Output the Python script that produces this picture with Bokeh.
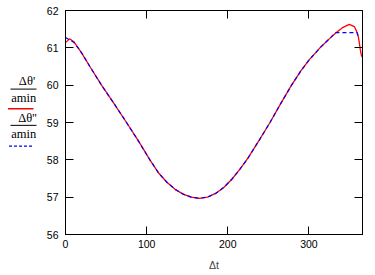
from bokeh.plotting import figure
from bokeh.layouts import row
from bokeh.models import Range1d, FixedTicker, LinearAxis
from bokeh.core.properties import value
from bokeh.embed import file_html
from bokeh.resources import INLINE

# Data
red_x = [0, 5, 10, 15.6, 20, 30, 44.4, 60, 75.2, 90, 104, 115, 125, 135, 145, 155, 165,
         175, 185, 195, 205, 215, 225, 238, 252, 265, 278.6, 290, 300, 313.6, 325, 333,
         342, 349.7, 355.9, 358.8, 360.8, 362.1, 363.3, 364.5, 365.8]
red_y = [61.14, 61.24, 61.17, 61.0, 60.86, 60.5, 60.0, 59.5, 59.0, 58.5, 58.0, 57.64,
         57.4, 57.21, 57.08, 57.0, 56.97, 57.0, 57.1, 57.26, 57.48, 57.75, 58.05, 58.5,
         59.0, 59.5, 60.0, 60.38, 60.67, 61.0, 61.24, 61.4, 61.55, 61.63, 61.57, 61.44,
         61.3, 61.13, 60.95, 60.81, 60.75]
blue_x = [0, 5, 10, 15.6, 20, 30, 44.4, 60, 75.2, 90, 104, 115, 125, 135, 145, 155, 165,
          175, 185, 195, 205, 215, 225, 238, 252, 265, 278.6, 290, 300, 313.6, 325, 333,
          359.5, 360.8]
blue_y = [61.28, 61.21, 61.15, 61.0, 60.86, 60.5, 60.0, 59.5, 59.0, 58.5, 58.0, 57.64,
          57.4, 57.21, 57.08, 57.0, 56.97, 57.0, 57.1, 57.26, 57.48, 57.75, 58.05, 58.5,
          59.0, 59.5, 60.0, 60.38, 60.67, 61.0, 61.24, 61.41, 61.41, 61.3]
x_ticks = [0, 100, 200, 300]
y_ticks = [56, 57, 58, 59, 60, 61, 62]
x_label = "Δt"
legend_num = ["Δθ'", "Δθ''"]
legend_den = ["amin", "amin"]

TICK_FONT = "Liberation Sans"
TICK_SIZE = "10.5px"

p = figure(width=335, height=275, x_range=Range1d(0, 366), y_range=Range1d(56, 62),
           toolbar_location=None, output_backend="svg",
           min_border_left=25, min_border_right=13, min_border_top=10, min_border_bottom=41)
p.xgrid.visible = False
p.ygrid.visible = False
p.outline_line_color = "black"
p.background_fill_color = "white"
p.border_fill_color = "white"

p.line(red_x, red_y, line_color="#FF0000", line_width=1.3)
p.line(blue_x, blue_y, line_color="#0000FF", line_width=1.2, line_dash="4 3")

for ax in p.xaxis:
    ax.ticker = FixedTicker(ticks=x_ticks)
for ax in p.yaxis:
    ax.ticker = FixedTicker(ticks=y_ticks)

for ax in list(p.xaxis) + list(p.yaxis):
    ax.major_tick_in = 8
    ax.major_tick_out = 0
    ax.minor_tick_line_color = None
    ax.axis_line_color = "black"
    ax.major_tick_line_color = "black"
    ax.major_label_text_font = TICK_FONT
    ax.major_label_text_font_size = TICK_SIZE
    ax.major_label_text_color = "black"

p.xaxis.major_label_standoff = 5
p.yaxis.major_label_standoff = 7
p.xaxis.axis_label = x_label
p.xaxis.axis_label_text_font = TICK_FONT
p.xaxis.axis_label_text_font_size = TICK_SIZE
p.xaxis.axis_label_text_font_style = "normal"
p.xaxis.axis_label_standoff = 8

top = LinearAxis(ticker=FixedTicker(ticks=x_ticks), major_tick_in=8, major_tick_out=0,
                 minor_tick_line_color=None, major_label_text_font_size="1px",
                 major_label_text_color=None, major_label_standoff=0, axis_line_color="black")
right = LinearAxis(ticker=FixedTicker(ticks=y_ticks), major_tick_in=8, major_tick_out=0,
                   minor_tick_line_color=None, major_label_text_font_size="1px",
                   major_label_text_color=None, major_label_standoff=0, axis_line_color="black")
p.add_layout(top, "above")
p.add_layout(right, "right")

# Legend panel (Mathcad-style), drawn in pixel coordinates of its own small figure
lg = figure(width=40, height=275, x_range=Range1d(0, 40), y_range=Range1d(275, 0),
            toolbar_location=None, output_backend="svg", x_axis_type=None, y_axis_type=None,
            min_border=0, min_border_left=0, min_border_right=0, min_border_top=0,
            min_border_bottom=0)
lg.outline_line_color = None
lg.xgrid.visible = False
lg.ygrid.visible = False

SERIF = value("'Liberation Serif', serif")
lg.text(x=[26.5, 27], y=[87, 132.5], text=legend_num, text_font=SERIF,
        text_font_size="12.5px", text_align="center", text_baseline="middle", text_color="black")
lg.text(x=[23.3, 23.3], y=[107.5, 152], text=legend_den, text_font=SERIF,
        text_font_size="12.5px", text_align="center", text_baseline="middle", text_color="black")
lg.segment(x0=[10, 10], y0=[96.5, 141], x1=[36, 36], y1=[96.5, 141], line_color="black", line_width=1)
lg.segment(x0=[7.5], y0=[120.5], x1=[33], y1=[120.5], line_color="#FF0000", line_width=1.5)
lg.segment(x0=[8.5], y0=[166.5], x1=[33.5], y1=[166.5], line_color="#0000FF", line_width=1.2,
           line_dash="3 2")

layout = row(lg, p, spacing=0)
open("out.html", "w").write(file_html(layout, INLINE))
